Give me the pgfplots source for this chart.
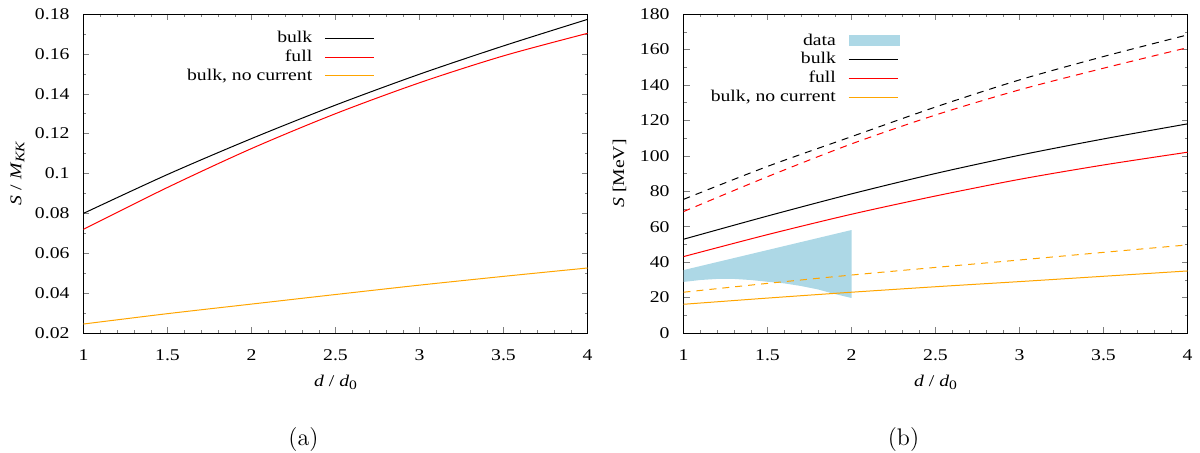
\documentclass[border=0pt]{standalone}
\usepackage{pgfplots}
\pgfplotsset{compat=1.18}
\usepackage{fontspec}
\newfontfamily\tnr[FakeStretch=1.2]{Liberation Serif}
\newcommand\pf{\tnr\fontsize{8.2}{9.5}\selectfont}
\newcommand\sub[1]{\raisebox{-0.4ex}{\fontsize{6.5}{7}\selectfont #1}}

\definecolor{gpred}{RGB}{255,0,0}
\definecolor{gporange}{RGB}{255,165,0}
\definecolor{band}{RGB}{173,216,230}

\pgfplotsset{
  gp/.style={
    scale only axis, width=252pt, height=159.5pt,
    xmin=1, xmax=4, xtick={1,1.5,...,4},
    minor x tick num=4, minor y tick num=1,
    tick align=inside, major tick length=3pt, minor tick length=1.5pt,
    tick label style={font=\pf},
    /pgf/number format/assume math mode=true,
    xticklabel style={yshift=-4.6pt},
    yticklabel style={xshift=-3.5pt},
    xlabel style={at={(axis description cs:0.5,-0.1536)}, anchor=center, font=\pf},
    ylabel style={anchor=center, font=\pf},
    legend plot pos=right,
    legend style={draw=none, fill=none, font=\pf, legend cell align=right,
      anchor=north east, row sep=0pt, column sep=5pt,
      nodes={inner sep=1.1pt}},
    legend image code/.code={\draw[#1, solid, line width=0.5pt] (0pt,0pt) -- (24.5pt,0pt);},
    every axis plot/.append style={line width=0.5pt, smooth},
  },
  dashed gp/.style={dash pattern=on 3.5pt off 3pt, forget plot},
}

\begin{document}
\begin{tikzpicture}
\path[use as bounding box] (0,0) rectangle (600pt,226.5pt);

% (a)
\begin{axis}[gp, name=ax1, at={(41.75pt,60pt)}, anchor=south west,
  ymin=0.02, ymax=0.18, ytick={0.02,0.04,...,0.18},
  scaled y ticks=false,
  yticklabel style={/pgf/number format/fixed, /pgf/number format/precision=2},
  xlabel={\textit{d} / \textit{d}\sub{0}},
  ylabel={\textit{S} / \textit{M}\sub{\itshape KK}},
  ylabel style={at={(axis description cs:-0.131,0.5)}},
  legend style={at={(axis description cs:0.590,0.9675)}},
]
\addplot[black] coordinates {(1,0.0800)(1.5,0.0995)(2,0.1175)(2.5,0.1343)(3,0.1498)(3.5,0.1640)(4,0.1773)};
\addlegendentry{bulk}
\addplot[gpred] coordinates {(1,0.0720)(1.5,0.0930)(2,0.1125)(2.5,0.1300)(3,0.1455)(3.5,0.1590)(4,0.1703)};
\addlegendentry{full}
\addplot[gporange] coordinates {(1,0.0245)(1.5,0.0297)(2,0.0345)(2.5,0.0393)(3,0.0440)(3.5,0.0484)(4,0.0526)};
\addlegendentry{bulk, no current}
\end{axis}

% (b)
\begin{axis}[gp, name=ax2, at={(341.75pt,60pt)}, anchor=south west,
  ymin=0, ymax=180, ytick={0,20,...,180},
  xlabel={\textit{d} / \textit{d}\sub{0}},
  ylabel={\textit{S} [MeV]},
  ylabel style={at={(axis description cs:-0.127,0.5)}},
  legend style={at={(axis description cs:0.4415,0.959)}},
]
\addplot[fill=band, draw=none, line width=0pt, sharp plot,
  legend image code/.code={\fill[band] (0pt,-2.75pt) rectangle (25.5pt,2.75pt);}]
  coordinates {(1,35.5)(2,58.1)(2,19.75)(1.9,22.0)(1.8,24.6)(1.7,26.5)(1.6,28.0)(1.5,28.9)(1.4,29.9)(1.3,30.5)(1.2,30.5)(1.1,29.9)(1,28.8)} -- cycle;
\addlegendentry{data}
\addplot[black] coordinates {(1,52.9)(1.5,66.0)(2,78.5)(2.5,90.0)(3,100.3)(3.5,109.5)(4,118.0)};
\addlegendentry{bulk}
\addplot[gpred] coordinates {(1,43.1)(1.5,55.5)(2,67.0)(2.5,77.3)(3,86.7)(3.5,94.8)(4,102.0)};
\addlegendentry{full}
\addplot[gporange] coordinates {(1,16.2)(1.5,19.7)(2,23.0)(2.5,26.1)(3,29.0)(3.5,32.0)(4,35.0)};
\addlegendentry{bulk, no current}
\addplot[black, dashed gp] coordinates {(1,75.4)(1.5,94.0)(2,110.8)(2.5,127.5)(3,142.8)(3.5,156.0)(4,168.2)};
\addplot[gpred, dashed gp] coordinates {(1,68.5)(1.5,88.2)(2,106.7)(2.5,123.0)(3,137.2)(3.5,149.4)(4,161.0)};
\addplot[gporange, dashed gp] coordinates {(1,23.0)(1.5,28.0)(2,32.7)(2.5,37.0)(3,41.2)(3.5,45.5)(4,49.7)};
\end{axis}

\node[font=\fontsize{12}{14}\selectfont] at ([xshift=-16pt,yshift=-53.5pt]ax1.south) {(a)};
\node[font=\fontsize{12}{14}\selectfont] at ([xshift=-16pt,yshift=-53.5pt]ax2.south) {(b)};
\end{tikzpicture}
\end{document}
